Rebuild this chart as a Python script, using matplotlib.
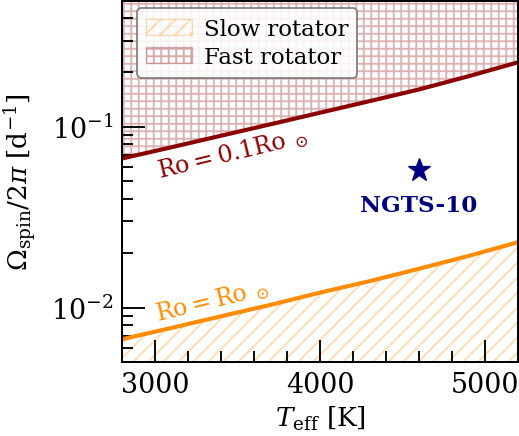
import numpy as np
import matplotlib
matplotlib.use("Agg")
import matplotlib.pyplot as plt
from matplotlib.colors import to_rgba

plt.rcParams['font.family'] = 'serif'
plt.rcParams['font.serif'] = ['DejaVu Serif']
plt.rcParams['mathtext.fontset'] = 'dejavuserif'
plt.rcParams['hatch.linewidth'] = 1.5

# Data
teff = [2800, 3100, 3400, 3700, 4000, 4300, 4600, 4900, 5200]
omega_fast = [0.0668, 0.0771, 0.0893, 0.1033, 0.1197, 0.1387, 0.161, 0.1905, 0.2275]   # Ro = 0.1 Ro_sun
omega_slow = [0.00668, 0.00772, 0.00895, 0.01035, 0.0121, 0.0140, 0.0164, 0.0193, 0.0230]  # Ro = Ro_sun
star_teff = 4600
star_omega = 0.0578
star_name = "NGTS-10"

DPI = 90
fig = plt.figure(figsize=(519 / DPI, 437 / DPI), dpi=DPI)
ax = fig.add_axes([122 / 519, 74 / 437, 396 / 519, 361.5 / 437])

red = '#8b0000'
orange = '#ff8c00'

ax.fill_between(teff, omega_slow, 1e-4, facecolor='none',
                edgecolor=to_rgba(orange, 0.3), hatch='//', linewidth=1.0,
                label='Slow rotator')
ax.fill_between(teff, omega_fast, 10, facecolor='none',
                edgecolor=to_rgba(red, 0.3), hatch='++', linewidth=1.0,
                label='Fast rotator')

ax.plot(teff, omega_fast, color=red, lw=3.3, solid_capstyle='butt')
ax.plot(teff, omega_slow, color=orange, lw=3.3, solid_capstyle='butt')

ax.plot([star_teff], [star_omega], marker='*', color='navy', ms=19, ls='none')
ax.text(star_teff, 0.0369, star_name, color='navy', fontsize=18.5,
        fontweight='bold', ha='center', va='center')

ax.text(3470, 0.0725, r'$\rm Ro = 0.1Ro_{\ \odot}$', color=red, fontsize=19,
        rotation=13.5, ha='center', va='center')
ax.text(3350, 0.0110, r'$\rm Ro = Ro_{\ \odot}$', color=orange, fontsize=19,
        rotation=13.5, ha='center', va='center')

ax.set_yscale('log')
ax.set_xlim(2800, 5200)
ax.set_ylim(0.005, 0.5)

ax.set_xticks([3000, 4000, 5000])
ax.set_xticks(np.arange(2800, 5201, 200), minor=True)

ax.tick_params(which='both', direction='in', top=False, right=False,
               labelsize=21.5, pad=7)
ax.tick_params(which='major', length=18, width=1.5)
ax.tick_params(which='minor', length=9, width=1.5)
for s in ax.spines.values():
    s.set_linewidth(1.6)

ax.set_xlabel(r'$T_{\rm eff}$ [K]', fontsize=21)
ax.set_ylabel(r'$\Omega_{\rm spin}/2\pi$ [d$^{-1}$]', fontsize=21)
ax.xaxis.set_label_coords(0.5, -0.115)
ax.yaxis.set_label_coords(-0.209, 0.5)

leg = ax.legend(loc='upper left', bbox_to_anchor=(0.0386, 0.978),
                borderaxespad=0, fontsize=18.3, fancybox=True,
                borderpad=0.4, labelspacing=0.3, handletextpad=0.5,
                edgecolor='0.45', framealpha=0.85)
leg.get_frame().set_linewidth(1.5)

fig.savefig('out.png', dpi=DPI)
